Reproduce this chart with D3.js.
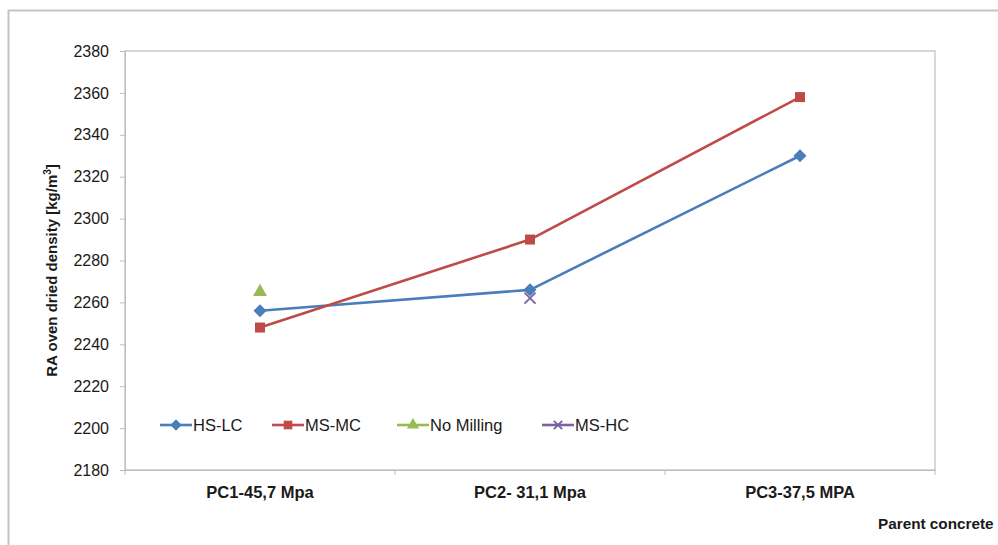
<!DOCTYPE html>
<html><head><meta charset="utf-8">
<script src="https://cdn.jsdelivr.net/npm/d3@7/dist/d3.min.js"></script>
<style>body{margin:0;background:#fff;}svg{display:block;font-family:"Liberation Sans",Arial,sans-serif;}</style>
</head><body>
<svg id="c" width="998" height="545"></svg>
<script>
const categories = ["PC1-45,7 Mpa", "PC2- 31,1 Mpa", "PC3-37,5 MPA"];
const hsLc = [2256, 2266, 2330];
const msMc = [2248, 2290, 2358];
const noMilling = [2265, null, null];
const msHc = [null, 2262, null];
const yTicks = [2180, 2200, 2220, 2240, 2260, 2280, 2300, 2320, 2340, 2360, 2380];
const seriesNames = ["HS-LC", "MS-MC", "No Milling", "MS-HC"];
const colors = ["#4a7ebb", "#be4b48", "#98b954", "#7d60a0"];
const symbols = ["diamond", "square", "triangle", "x"];
const seriesValues = [hsLc, msMc, noMilling, msHc];

const svg = d3.select("#c");
const L = 125, R = 935, T = 51, B = 470;
const x = d3.scaleBand().domain(categories).range([L, R]);
const y = d3.scaleLinear().domain([2180, 2380]).range([B, T]);

// outer frame
svg.append("path").attr("d", "M8.5,545 V10.5 H998").attr("fill", "none").attr("stroke", "#c4c4c4").attr("stroke-width", 2);

// plot border
svg.append("rect").attr("x", L).attr("y", T).attr("width", R - L).attr("height", B - T)
  .attr("fill", "none").attr("stroke", "#bdbdbd").attr("stroke-width", 1.2);

// y axis
const ya = svg.append("g").attr("transform", `translate(${L},0)`)
  .call(d3.axisLeft(y).tickValues(yTicks).tickSize(5).tickPadding(11).tickFormat(d3.format("d")));
ya.select(".domain").attr("stroke", "#bdbdbd");
ya.selectAll(".tick line").attr("stroke", "#bdbdbd");
ya.selectAll(".tick text").attr("font-size", 16).attr("fill", "#1a1a1a").attr("font-family", "Liberation Sans, Arial, sans-serif");

// x axis
const xa = svg.append("g").attr("transform", `translate(0,${B})`)
  .call(d3.axisBottom(x).tickSize(0).tickPadding(16));
xa.select(".domain").attr("stroke", "#bdbdbd");
xa.selectAll(".tick text").attr("font-size", 16.5).attr("font-weight", "bold").attr("fill", "#1a1a1a")
  .attr("font-family", "Liberation Sans, Arial, sans-serif");
// category boundary ticks
const bounds = [L, ...categories.slice(1).map(c => x(c)), R];
svg.append("g").selectAll("line").data(bounds).join("line")
  .attr("x1", d => d).attr("x2", d => d).attr("y1", B).attr("y2", B + 5)
  .attr("stroke", "#bdbdbd");

// axis titles
const yt = svg.append("text").attr("transform", `translate(57,${(T + B) / 2 + 10}) rotate(-90)`)
  .attr("text-anchor", "middle").attr("font-size", 15).attr("font-weight", "bold").attr("fill", "#1a1a1a");
yt.append("tspan").text("RA oven dried density [kg/m");
yt.append("tspan").text("3").attr("font-size", 10).attr("dy", -6);
yt.append("tspan").text("]").attr("dy", 6);

svg.append("text").attr("x", 878).attr("y", 529).attr("font-size", 15.3).attr("font-weight", "bold")
  .attr("fill", "#1a1a1a").text("Parent concrete");

// marker helper
function marker(g, type, cx, cy, color, s) {
  s = s || 1;
  if (type === "x") {
    const h = 5.5 * s;
    g.append("path").attr("d", `M${cx - h},${cy - h}L${cx + h},${cy + h}M${cx - h},${cy + h}L${cx + h},${cy - h}`)
      .attr("stroke", color).attr("stroke-width", 1.8).attr("fill", "none");
    return;
  }
  const size = { diamond: 85, square: 100, triangle: 85 }[type] * s;
  const sym = type === "triangle" ? d3.symbolTriangle : d3.symbolSquare;
  g.append("path").attr("d", d3.symbol(sym, size)()).attr("fill", color)
    .attr("transform", `translate(${cx},${cy})` + (type === "diamond" ? " rotate(45)" : ""));
}

// lines
const line = d3.line().defined(d => d.v != null).x(d => x(d.c) + x.bandwidth() / 2).y(d => y(d.v));
seriesValues.forEach((vals, i) => {
  const pts = categories.map((c, j) => ({ c, v: vals[j] }));
  svg.append("path").datum(pts).attr("d", line).attr("fill", "none")
    .attr("stroke", colors[i]).attr("stroke-width", 2.6).attr("stroke-linejoin", "round");
});
// markers
const mg = svg.append("g");
seriesValues.forEach((vals, i) => {
  categories.forEach((c, j) => {
    if (vals[j] != null) marker(mg, symbols[i], x(c) + x.bandwidth() / 2, y(vals[j]), colors[i]);
  });
});

// legend
const legX = [160, 272, 397, 542];
const legY = 425;
seriesNames.forEach((n, i) => {
  const g = svg.append("g");
  g.append("line").attr("x1", legX[i]).attr("x2", legX[i] + 32).attr("y1", legY).attr("y2", legY)
    .attr("stroke", colors[i]).attr("stroke-width", 2.6);
  marker(g, symbols[i], legX[i] + 16, legY, colors[i], 0.75);
  g.append("text").attr("x", legX[i] + 33).attr("y", legY + 6).attr("font-size", 16.5).attr("fill", "#1a1a1a").text(n);
});
</script>
</body></html>
